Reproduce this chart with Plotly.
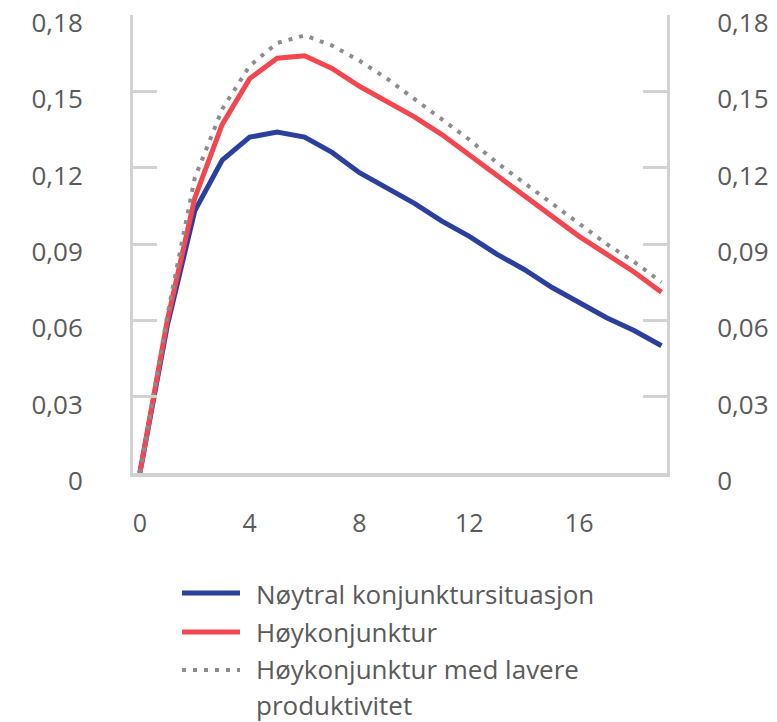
import plotly.graph_objects as go

# ---- data ----
quarters = list(range(0, 20))
noytral = [0, 0.058, 0.103, 0.123, 0.132, 0.134, 0.132, 0.126, 0.118, 0.112,
           0.106, 0.099, 0.093, 0.086, 0.080, 0.073, 0.067, 0.061, 0.056, 0.050]
hoykonj = [0, 0.060, 0.108, 0.137, 0.155, 0.163, 0.164, 0.159, 0.152, 0.146,
           0.140, 0.133, 0.125, 0.117, 0.109, 0.101, 0.093, 0.086, 0.079, 0.071]
hoykonj_lav = [0, 0.062, 0.116, 0.143, 0.160, 0.169, 0.172, 0.168, 0.162, 0.155,
               0.147, 0.139, 0.131, 0.122, 0.114, 0.106, 0.098, 0.090, 0.083, 0.075]

series_names = ["Nøytral konjunktursituasjon", "Høykonjunktur",
                "Høykonjunktur med lavere", "produktivitet"]
x_ticks = [0, 4, 8, 12, 16]
y_ticks = [0, 0.03, 0.06, 0.09, 0.12, 0.15, 0.18]
y_ticktext = ["0", "0,03", "0,06", "0,09", "0,12", "0,15", "0,18"]

BLUE = "#2b3f9e"
RED = "#f2474f"
GREY = "#8c8c8c"
AXIS = "#d2d2d2"
TEXT = "#5a5a5a"
FONT = "Open Sans"

fig = go.Figure()
fig.add_trace(go.Scatter(x=quarters, y=noytral, mode="lines",
                         line=dict(color=BLUE, width=5), showlegend=False))
fig.add_trace(go.Scatter(x=quarters, y=hoykonj, mode="lines",
                         line=dict(color=RED, width=5), showlegend=False))
fig.add_trace(go.Scatter(x=quarters, y=hoykonj_lav, mode="lines",
                         line=dict(color=GREY, width=4, dash="4px,7px"),
                         showlegend=False))
# invisible trace so the right-hand axis is drawn
fig.add_trace(go.Scatter(x=quarters, y=noytral, yaxis="y2", mode="lines",
                         line=dict(width=0), opacity=0, showlegend=False,
                         hoverinfo="skip"))

axis_common = dict(range=[0, 0.180001], tickvals=y_ticks, ticktext=y_ticktext,
                   ticks="inside", ticklen=24, tickwidth=3, tickcolor=AXIS,
                   showline=True, linecolor=AXIS, linewidth=3,
                   showgrid=False, zeroline=False, automargin=False,
                   ticklabeloverflow="allow", ticklabelshift=8,
                   tickfont=dict(family=FONT, size=26, color=TEXT))

# page body adds an 8px offset, so figure coords = reference coords - 8
fig.update_layout(
    width=777, height=722,
    margin=dict(l=125, r=118, t=7, b=257),
    plot_bgcolor="white", paper_bgcolor="white",
    xaxis=dict(range=[-0.25, 19.2], tickvals=x_ticks, ticks="",
               showline=True, linecolor=AXIS, linewidth=4, automargin=False,
               showgrid=False, zeroline=False, ticklabelstandoff=25,
               tickfont=dict(family=FONT, size=25, color=TEXT)),
    yaxis=dict(side="left", ticklabelstandoff=42, **axis_common),
    yaxis2=dict(side="right", overlaying="y", ticklabelstandoff=42,
                **axis_common),
)

# ---- legend drawn below the plot ----
plot_left, plot_w, plot_bottom, plot_h = 125, 534, 465, 458
def px_x(px):
    return (px - plot_left) / plot_w
def px_y(py):
    return (plot_bottom - py) / plot_h

legend_keys = [(585, BLUE, "solid", 5), (624, RED, "solid", 5), (662, GREY, "4px,7px", 4)]
for py, col, dash, w in legend_keys:
    fig.add_shape(type="line", xref="paper", yref="paper",
                  x0=px_x(174), x1=px_x(232), y0=px_y(py), y1=px_y(py),
                  line=dict(color=col, width=w, dash=dash))
text_rows = [586, 624, 661, 697]
for py, name in zip(text_rows, series_names):
    fig.add_annotation(xref="paper", yref="paper", x=px_x(246), y=px_y(py),
                       xanchor="left", yanchor="middle", showarrow=False,
                       align="left", text=name,
                       font=dict(family=FONT, size=26, color=TEXT))

fig.write_html("out.html")
